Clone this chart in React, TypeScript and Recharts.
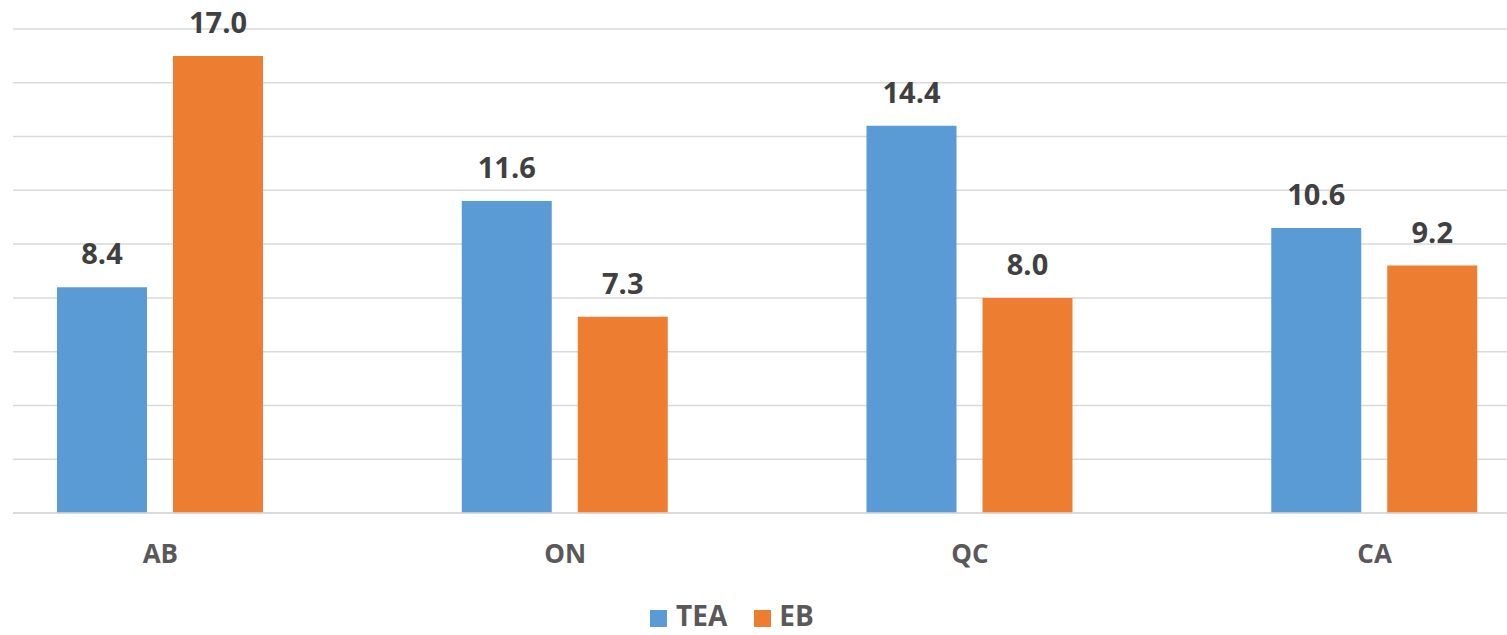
import React from 'react';
import { BarChart, Bar, XAxis, YAxis, CartesianGrid, Legend, LabelList } from 'recharts';

const categories = ['AB', 'ON', 'QC', 'CA'];
const teaValues = [8.4, 11.6, 14.4, 10.6];
const ebValues = [17.0, 7.3, 8.0, 9.2];
const yTicks = [0, 2, 4, 6, 8, 10, 12, 14, 16, 18];

const data = categories.map((c, i) => ({ name: c, TEA: teaValues[i], EB: ebValues[i] }));

const BLUE = '#5B9BD5';
const ORANGE = '#ED7D31';
const FONT = '"Open Sans", "Liberation Sans", sans-serif';
const LEGEND_H = 38;
const XAXIS_H = 30;

const LegendContent = () => (
  <div style={{ display: 'flex', alignItems: 'center', height: LEGEND_H, marginLeft: 650, fontFamily: FONT, fontWeight: 700, fontSize: 28, color: '#595959', lineHeight: `${LEGEND_H}px`, whiteSpace: 'nowrap' }}>
    <span style={{ display: 'inline-block', width: 17, height: 17, background: BLUE, marginRight: 9, marginTop: 6 }} />
    <span style={{ marginRight: 27 }}>TEA</span>
    <span style={{ display: 'inline-block', width: 17, height: 17, background: ORANGE, marginRight: 8, marginTop: 6 }} />
    <span>EB</span>
  </div>
);

export default function App() {
  return (
    <div style={{ position: 'fixed', top: 0, left: 0, width: 1507, height: 635, background: '#fff', overflow: 'hidden' }}>
      <BarChart width={1507} height={635} data={data} margin={{ top: 29, right: 0, left: 13, bottom: 122 - LEGEND_H - XAXIS_H }} barGap={26} barSize={90}>
        <CartesianGrid vertical={false} stroke="#d9d9d9" strokeWidth={1.5} />
        <YAxis hide domain={[0, 18]} ticks={yTicks} />
        <XAxis
          dataKey="name"
          height={XAXIS_H}
          padding={{ left: -55, right: -70 }}
          tickLine={false}
          axisLine={{ stroke: '#d9d9d9', strokeWidth: 1.5 }}
          tickMargin={26}
          tick={{ fill: '#595959', fontSize: 26, fontWeight: 700, fontFamily: FONT }}
        />
        <Legend
          verticalAlign="bottom"
          height={LEGEND_H}
          content={<LegendContent />}
          wrapperStyle={{ position: 'absolute', top: 596, bottom: 'auto', left: 0, width: 1507, height: LEGEND_H }}
        />
        <Bar dataKey="TEA" fill={BLUE} isAnimationActive={false}>
          <LabelList dataKey="TEA" position="top" offset={23} formatter={(v: any) => Number(v).toFixed(1)} style={{ fill: '#404040', fontSize: 29, fontWeight: 700, fontFamily: FONT }} />
        </Bar>
        <Bar dataKey="EB" fill={ORANGE} isAnimationActive={false}>
          <LabelList dataKey="EB" position="top" offset={23} formatter={(v: any) => Number(v).toFixed(1)} style={{ fill: '#404040', fontSize: 29, fontWeight: 700, fontFamily: FONT }} />
        </Bar>
      </BarChart>
    </div>
  );
}
